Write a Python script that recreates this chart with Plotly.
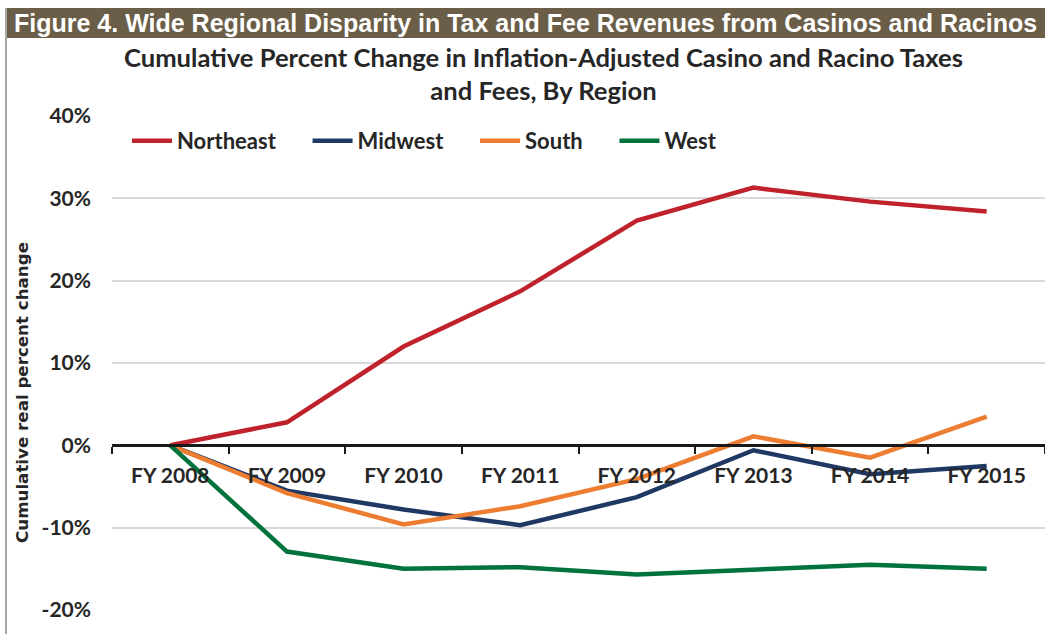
import plotly.graph_objects as go

years = ["FY 2008", "FY 2009", "FY 2010", "FY 2011", "FY 2012", "FY 2013", "FY 2014", "FY 2015"]
northeast = [0.0, 2.8, 12.0, 18.7, 27.3, 31.3, 29.6, 28.4]
midwest = [0.0, -5.5, -7.8, -9.7, -6.3, -0.6, -3.5, -2.5]
south = [0.0, -5.8, -9.6, -7.4, -4.1, 1.1, -1.5, 3.5]
west = [0.0, -12.9, -15.0, -14.8, -15.7, -15.1, -14.5, -15.0]
y_tickvals = [-20, -10, 0, 10, 20, 30, 40]
y_ticktext = ["-20%", "-10%", "0%", "10%", "20%", "30%", "40%"]

series = [("Northeast", northeast, "#C0222B"),
          ("Midwest", midwest, "#1F3864"),
          ("South", south, "#ED7D31"),
          ("West", west, "#00733C")]

W, H = 1045, 634
ML, MR, MT, MB = 112, 0, 116, 24
PW, PH = W - ML - MR, H - MT - MB
YMIN, YMAX = -20, 40

def px(x):
    return (x - ML) / PW

def py(y):
    return (H - MB - y) / PH

PAD = "\u00a0" * 5

fig = go.Figure()
for name, vals, col in series:
    fig.add_trace(go.Scatter(x=years, y=vals, name=name + PAD, mode="lines",
                             line=dict(color=col, width=4.5)))

tick_font = dict(family="Lato, Calibri, Carlito, sans-serif", size=21, color="#262626", weight="bold")

fig.update_layout(
    width=W, height=H,
    margin=dict(l=ML, r=MR, t=MT, b=MB),
    paper_bgcolor="white", plot_bgcolor="white",
    showlegend=True,
    legend=dict(orientation="h", x=px(127), y=py(120), xanchor="left", yanchor="top",
                font=dict(family="Lato, Calibri, sans-serif", size=22, color="#262626", weight="bold"),
                bgcolor="rgba(0,0,0,0)", itemwidth=40, tracegroupgap=0),
    xaxis=dict(type="category", range=[-0.5, 7.5], anchor="free",
               position=(0 - YMIN) / (YMAX - YMIN),
               showline=True, linecolor="#1a1a1a", linewidth=2.5,
               ticks="outside", ticklen=7, tickwidth=2, tickcolor="#1a1a1a",
               tickson="boundaries", showgrid=False, tickfont=tick_font,
               ticklabelstandoff=11),
    yaxis=dict(range=[YMIN, YMAX], tickvals=y_tickvals, ticktext=y_ticktext, showgrid=True,
               gridcolor="#D9D9D9", gridwidth=1.5, zeroline=False, showline=False,
               tickfont=tick_font, ticklabelstandoff=20),
)

# header bar
fig.add_shape(type="rect", xref="paper", yref="paper",
              x0=px(5), x1=px(1045), y0=py(38), y1=py(8),
              fillcolor="#6B5E48", line=dict(width=0), layer="above")
fig.add_shape(type="line", xref="paper", yref="paper",
              x0=px(6), x1=px(6), y0=py(8), y1=py(634),
              line=dict(color="#A6A6A6", width=2))
fig.add_annotation(text="Figure 4. Wide Regional Disparity in Tax and Fee Revenues from Casinos and Racinos",
                   xref="paper", yref="paper", x=px(525), y=py(23), xanchor="center", yanchor="middle",
                   showarrow=False,
                   font=dict(family="Liberation Sans Narrow, Arial Narrow, Liberation Sans, sans-serif", size=25,
                             color="white", weight="bold"))
fig.add_annotation(text="Cumulative Percent Change in Inflation-Adjusted Casino and Racino Taxes<br>and Fees, By Region",
                   xref="paper", yref="paper", x=px(543), y=py(74), xanchor="center", yanchor="middle",
                   showarrow=False, align="center",
                   font=dict(family="Lato, Calibri, sans-serif", size=25.6, color="#262626", weight="bold"))
fig.add_annotation(text="Cumulative real percent change",
                   xref="paper", yref="paper", x=px(22), y=py(393), xanchor="center", yanchor="middle",
                   showarrow=False, textangle=-90,
                   font=dict(family="DejaVu Sans, Verdana, sans-serif", size=16.7, color="#262626", weight="bold"))

fig.write_html("out.html", config={"displayModeBar": False},
               post_script="document.body.style.margin='0px';")
